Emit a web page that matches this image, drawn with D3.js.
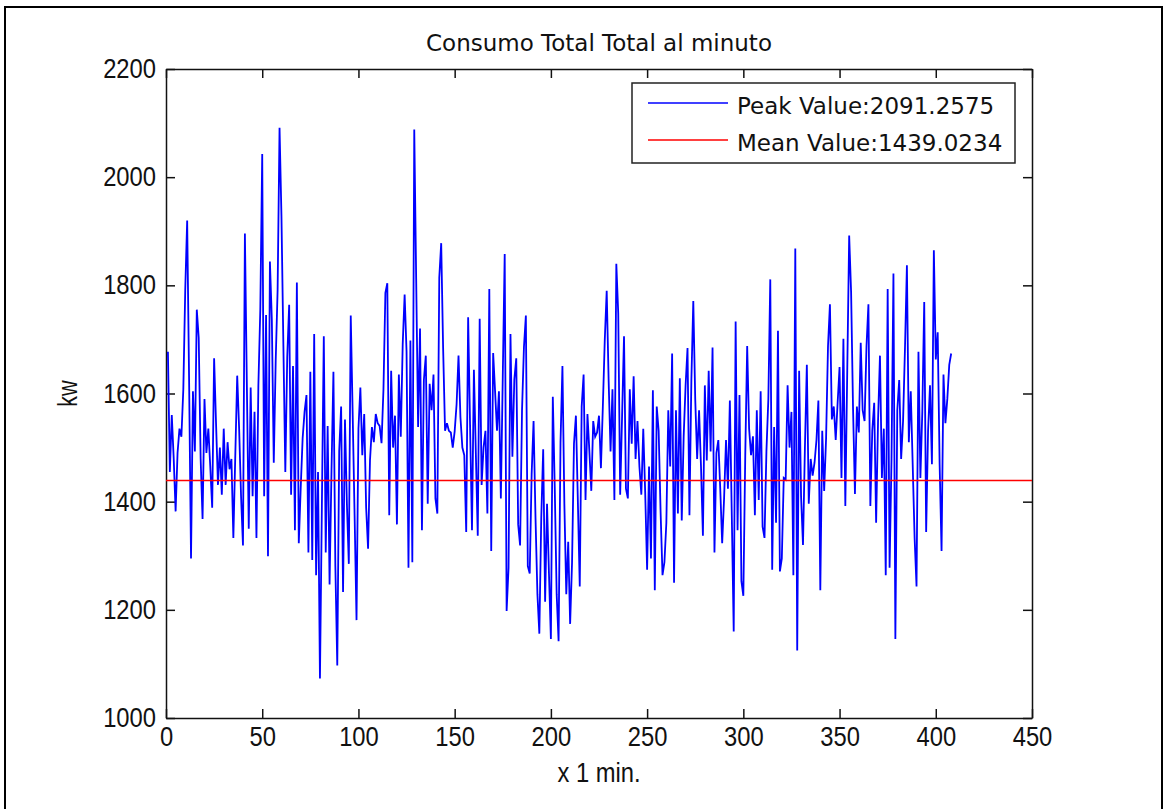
<!DOCTYPE html>
<html>
<head>
<meta charset="utf-8">
<script src="https://cdn.jsdelivr.net/npm/d3@7"></script>
<style>
  body { margin: 0; background: #fff; }
  .tick text, .lab { font-family: "Liberation Sans", Arial, sans-serif; font-size: 27px; fill: #111; }
  .title, .legend text { font-family: "DejaVu Sans", Verdana, sans-serif; font-size: 23px; fill: #111; }
</style>
</head>
<body>
<div class="canvas"></div>
<script>
// consumption per minute (kw)
const consumo = [
  1677, 1455, 1560, 1480, 1382, 1490, 1535, 1520, 1608, 1792,
  1920, 1625, 1295, 1604, 1493, 1755, 1703, 1480, 1368, 1590,
  1490, 1535, 1465, 1389, 1665, 1545, 1431, 1500, 1413, 1535,
  1431, 1510, 1460, 1479, 1333, 1485, 1633, 1535, 1410, 1319,
  1896, 1620, 1350, 1611, 1410, 1566, 1333, 1615, 1755, 2043,
  1410, 1745, 1299, 1844, 1736, 1472, 1660, 1792, 2091.2575, 1927,
  1688, 1455, 1668, 1764, 1413, 1651, 1347, 1805, 1323, 1425,
  1517, 1566, 1597, 1306, 1640, 1292, 1710, 1264, 1455, 1073,
  1392, 1706, 1306, 1540, 1247, 1458, 1640, 1281, 1097, 1493,
  1576, 1233, 1552, 1396, 1285, 1744, 1562, 1375, 1181, 1535,
  1611, 1486, 1562, 1389, 1313, 1476, 1538, 1510, 1562, 1545,
  1540, 1508, 1608, 1786, 1804, 1375, 1642, 1500, 1559, 1358,
  1635, 1520, 1691, 1783, 1677, 1278, 1698, 1288, 2088, 1812,
  1538, 1720, 1347, 1625, 1670, 1396, 1618, 1569, 1635, 1406,
  1378, 1814, 1878, 1684, 1531, 1545, 1531, 1528, 1500, 1530,
  1580, 1670, 1556, 1500, 1486, 1344, 1741, 1542, 1347, 1644,
  1490, 1337, 1738, 1431, 1500, 1531, 1378, 1793, 1309, 1675,
  1604, 1531, 1604, 1406, 1632, 1858, 1198, 1278, 1710, 1483,
  1626, 1665, 1358, 1319, 1569, 1686, 1744, 1281, 1267, 1451,
  1549, 1371, 1229, 1156, 1371, 1497, 1215, 1396, 1267, 1146,
  1594, 1427, 1229, 1142, 1510, 1651, 1396, 1229, 1326, 1174,
  1288, 1507, 1559, 1403, 1243, 1576, 1635, 1403, 1562, 1493,
  1420, 1549, 1520, 1528, 1559, 1462, 1576, 1699, 1790, 1625,
  1493, 1608, 1403, 1840, 1748, 1413, 1559, 1706, 1424, 1406,
  1608, 1507, 1632, 1479, 1549, 1465, 1413, 1535, 1417, 1274,
  1465, 1295, 1606, 1236, 1576, 1531, 1382, 1264, 1288, 1361,
  1569, 1465, 1674, 1250, 1569, 1378, 1628, 1365, 1521, 1615,
  1684, 1375, 1625, 1771, 1590, 1479, 1569, 1465, 1337, 1615,
  1476, 1642, 1493, 1685, 1306, 1490, 1514, 1424, 1323, 1406,
  1514, 1424, 1587, 1375, 1160, 1733, 1347, 1597, 1253, 1226,
  1486, 1688, 1535, 1486, 1521, 1375, 1569, 1403, 1604, 1354,
  1333, 1493, 1590, 1811, 1274, 1538, 1361, 1716, 1271, 1295,
  1444, 1441, 1615, 1500, 1566, 1264, 1868, 1125, 1642, 1410,
  1320, 1500, 1653, 1396, 1479, 1448, 1472, 1514, 1587, 1236,
  1531, 1420, 1517, 1688, 1765, 1552, 1576, 1514, 1583, 1649,
  1444, 1701, 1392, 1642, 1892, 1788, 1573, 1414, 1576, 1528,
  1694, 1569, 1549, 1688, 1765, 1392, 1531, 1583, 1361, 1549,
  1670, 1444, 1535, 1264, 1793, 1278, 1479, 1822, 1146, 1569,
  1625, 1479, 1549, 1684, 1837, 1510, 1604, 1469, 1333, 1243,
  1677, 1444, 1566, 1769, 1344, 1531, 1615, 1469, 1865, 1663,
  1713, 1469, 1309, 1635, 1545, 1590, 1653, 1674
];
const minutos = consumo.map((d, i) => i + 1);

const peakValue = 2091.2575;
const meanValue = 1439.0234;
const meanSpan = [0, 450];

const xTicks = [0, 50, 100, 150, 200, 250, 300, 350, 400, 450];
const yTicks = [1000, 1200, 1400, 1600, 1800, 2000, 2200];

const legendLabels = [`Peak Value:${peakValue}`, `Mean Value:${meanValue}`];
const legendColours = ["#0000ff", "#ff0000"];

const dims = { width: 1164, height: 809 };
const plot = { left: 166, right: 1032, top: 69, bottom: 718 };

const svg = d3
  .select(".canvas")
  .append("svg")
  .attr("width", dims.width)
  .attr("height", dims.height);

// outer frame (table cell border)
svg
  .append("path")
  .attr("d", `M5,${dims.height} V7 H1162 V${dims.height}`)
  .attr("fill", "none")
  .attr("stroke", "#000")
  .attr("stroke-width", 2);

const x = d3.scaleLinear().domain([0, 450]).range([plot.left, plot.right]);
const y = d3.scaleLinear().domain([1000, 2200]).range([plot.bottom, plot.top]);

// axes, ticks pointing inwards like matlab
const axes = [
  { g: d3.axisBottom(x).tickValues(xTicks).tickPadding(9), at: `translate(0,${plot.bottom})`, labels: true },
  { g: d3.axisTop(x).tickValues(xTicks), at: `translate(0,${plot.top})`, labels: false },
  { g: d3.axisLeft(y).tickValues(yTicks).tickPadding(10), at: `translate(${plot.left},0)`, labels: true },
  { g: d3.axisRight(y).tickValues(yTicks), at: `translate(${plot.right},0)`, labels: false }
];

// matlab's tick font is a narrow one, squeeze the glyphs a bit
const squeeze = (sel, k) =>
  sel.each(function () {
    const w = this.getComputedTextLength();
    d3.select(this).attr("textLength", w * k).attr("lengthAdjust", "spacingAndGlyphs");
  });

axes.forEach((a) => {
  a.g.tickSizeInner(-9).tickSizeOuter(0).tickFormat(a.labels ? d3.format("d") : "");
  const g = svg.append("g").attr("transform", a.at).call(a.g);
  g.selectAll("path, line").attr("stroke", "#111").attr("stroke-width", 1.5);
  g.selectAll("text").call(squeeze, 0.88);
});

// data line
const line = d3
  .line()
  .x((d, i) => x(minutos[i]))
  .y((d) => y(d));

svg
  .append("path")
  .datum(consumo)
  .attr("d", line)
  .attr("fill", "none")
  .attr("stroke", legendColours[0])
  .attr("stroke-width", 1.8);

// mean line
svg
  .append("path")
  .datum(meanSpan)
  .attr("d", d3.line().x((d) => x(d)).y(() => y(meanValue)))
  .attr("stroke", legendColours[1])
  .attr("stroke-width", 1.6);

// title and labels
svg
  .append("text")
  .attr("class", "title")
  .attr("x", (plot.left + plot.right) / 2)
  .attr("y", 51)
  .attr("text-anchor", "middle")
  .text("Consumo Total Total al minuto");

svg
  .append("text")
  .attr("class", "lab")
  .attr("x", (plot.left + plot.right) / 2)
  .attr("y", 782)
  .attr("text-anchor", "middle")
  .text("x 1 min.")
  .call(squeeze, 0.88);

svg
  .append("text")
  .attr("class", "lab")
  .attr("transform", `translate(77,${(plot.top + plot.bottom) / 2}) rotate(-90)`)
  .attr("text-anchor", "middle")
  .text("kw")
  .call(squeeze, 0.8);

// legend
const legend = svg.append("g").attr("class", "legend");

legend
  .append("rect")
  .attr("x", 632)
  .attr("y", 83)
  .attr("width", 383)
  .attr("height", 80)
  .attr("fill", "#fff")
  .attr("stroke", "#222")
  .attr("stroke-width", 1.5);

const items = legend
  .selectAll("g.item")
  .data(legendLabels)
  .enter()
  .append("g")
  .attr("class", "item")
  .attr("transform", (d, i) => `translate(648, ${103 + i * 37})`);

items
  .append("line")
  .attr("x1", 0)
  .attr("x2", 80)
  .attr("stroke", (d, i) => legendColours[i])
  .attr("stroke-width", 1.6);

items
  .append("text")
  .attr("x", 89)
  .attr("y", 11)
  .text((d) => d);
</script>
</body>
</html>
